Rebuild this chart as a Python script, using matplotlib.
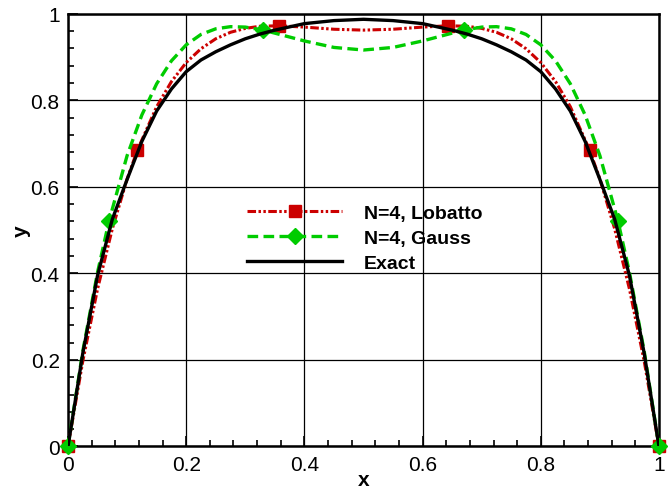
import matplotlib
matplotlib.use('Agg')
import matplotlib.pyplot as plt
from matplotlib.ticker import MultipleLocator

plt.rcParams['font.family'] = ['Liberation Sans', 'DejaVu Sans']

# Lobatto (N=4) curve, nodes at 0, .1175, .3574, .6426, .8825, 1
x_lob = [0, 0.025, 0.05, 0.075, 0.1, 0.1175, 0.15, 0.175, 0.2, 0.225, 0.25, 0.275, 0.3, 0.325,
         0.3574, 0.4, 0.45, 0.5, 0.55, 0.6, 0.6426, 0.675, 0.7, 0.725, 0.75, 0.775, 0.8, 0.825,
         0.85, 0.8825, 0.9, 0.925, 0.95, 0.975, 1]
y_lob = [0, 0.197, 0.364, 0.503, 0.618, 0.685, 0.785, 0.843, 0.887, 0.919, 0.942, 0.957, 0.966, 0.971,
         0.972, 0.969, 0.964, 0.962, 0.964, 0.969, 0.972, 0.971, 0.966, 0.957, 0.942, 0.919, 0.887, 0.843,
         0.785, 0.685, 0.618, 0.503, 0.364, 0.197, 0]
lob_nodes = [0, 5, 14, 20, 29, 34]

# Gauss (N=4) curve, nodes at 0, .0694, .33, .67, .9306, 1
x_gau = [0, 0.025, 0.05, 0.0694, 0.1, 0.125, 0.15, 0.175, 0.2, 0.225, 0.25, 0.275, 0.3, 0.33,
         0.35, 0.4, 0.45, 0.5, 0.55, 0.6, 0.65, 0.67, 0.7, 0.725, 0.75, 0.775, 0.8, 0.825,
         0.85, 0.875, 0.9, 0.9306, 0.95, 0.975, 1]
y_gau = [0, 0.220, 0.4025, 0.521, 0.672, 0.766, 0.838, 0.891, 0.928, 0.952, 0.965, 0.970, 0.969, 0.962,
         0.955, 0.937, 0.922, 0.916, 0.922, 0.937, 0.955, 0.962, 0.969, 0.970, 0.965, 0.952, 0.928, 0.891,
         0.838, 0.766, 0.672, 0.521, 0.4025, 0.220, 0]
gau_nodes = [0, 3, 13, 21, 31, 34]

# exact solution
x_ex = [0, 0.025, 0.05, 0.075, 0.1, 0.125, 0.15, 0.175, 0.2, 0.225, 0.25, 0.275, 0.3, 0.325, 0.35,
        0.4, 0.45, 0.5, 0.55, 0.6, 0.65, 0.675, 0.7, 0.725, 0.75, 0.775, 0.8, 0.825, 0.85, 0.875,
        0.9, 0.925, 0.95, 0.975, 1]
y_ex = [0, 0.215, 0.395, 0.525, 0.617, 0.705, 0.775, 0.826, 0.866, 0.893, 0.912, 0.928, 0.942, 0.953, 0.962,
        0.977, 0.984, 0.987, 0.984, 0.977, 0.962, 0.953, 0.942, 0.928, 0.912, 0.893, 0.866, 0.826, 0.775, 0.705,
        0.617, 0.525, 0.395, 0.215, 0]

red = '#CC0000'
green = '#00CC00'

fig = plt.figure(figsize=(6.68, 4.89), dpi=100)
ax = fig.add_axes([0.1018, 0.0849, 0.8847, 0.8851])

ax.plot(x_lob, y_lob, color=red, lw=2.2, dashes=(2.8, 0.8, 0.8, 0.8, 0.8, 0.8),
        marker='s', ms=8.5, markevery=lob_nodes, mfc=red, mec=red, label='N=4, Lobatto',
        zorder=3, clip_on=False)
ax.plot(x_gau, y_gau, color=green, lw=2.4, dashes=(3.2, 1.6),
        marker='D', ms=8, markevery=gau_nodes, mfc=green, mec=green, label='N=4, Gauss',
        zorder=3, clip_on=False)
ax.plot(x_ex, y_ex, color='black', lw=2.4, label='Exact', zorder=4)

ax.set_xlim(0, 1)
ax.set_ylim(0, 1)
ax.xaxis.set_major_locator(MultipleLocator(0.2))
ax.yaxis.set_major_locator(MultipleLocator(0.2))
ax.xaxis.set_minor_locator(MultipleLocator(0.04))
ax.yaxis.set_minor_locator(MultipleLocator(0.04))
ax.xaxis.set_major_formatter(plt.FuncFormatter(lambda v, p: f'{v:g}'))
ax.yaxis.set_major_formatter(plt.FuncFormatter(lambda v, p: f'{v:g}'))
ax.tick_params(which='both', direction='in', labelsize=15, width=1.2)
ax.tick_params(which='major', length=7, pad=6)
ax.tick_params(which='minor', length=4.5)
ax.grid(True, which='major', color='black', lw=0.9)
for s in ax.spines.values():
    s.set_linewidth(1.8)

ax.set_xlabel('x', fontsize=15, fontweight='bold', labelpad=-3)
ax.set_ylabel('y', fontsize=15, fontweight='bold', labelpad=0)

leg = ax.legend(loc='upper left', bbox_to_anchor=(0.303, 0.56), frameon=False,
                borderpad=0, borderaxespad=0, handlelength=4.9, handletextpad=1.1,
                labelspacing=0.38, prop={'size': 14, 'weight': 'bold'})

plt.savefig('out.png', dpi=100)
